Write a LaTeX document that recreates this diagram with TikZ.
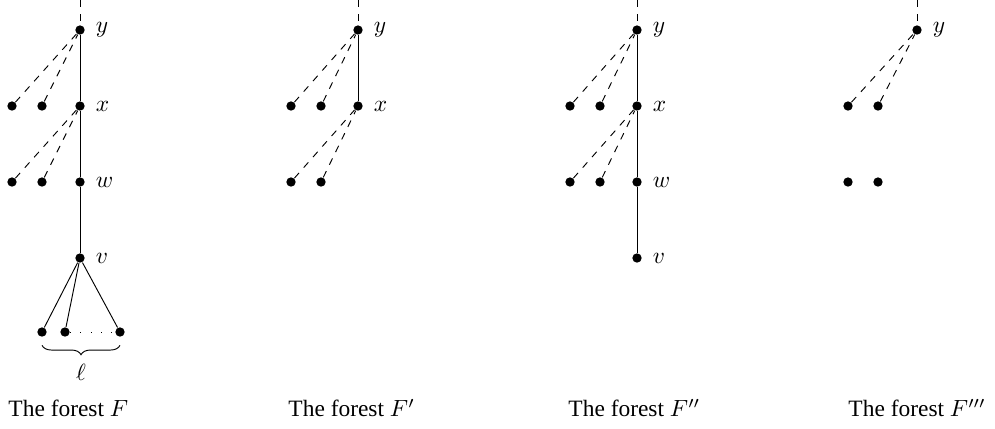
\documentclass[tikz,border=0pt]{standalone}
\usepackage{fontspec}
\setmainfont{Liberation Serif}
\usetikzlibrary{positioning, decorations.pathreplacing}

\begin{document}
\begin{tikzpicture}[
  x=0.015cm, y=-0.015cm,
  dot/.style={circle, fill=black, inner sep=0pt, minimum size=0.14cm},
  edge/.style={thin, black},
  cut/.style={thin, dashed, black},
  caption/.style={anchor=west, inner sep=0pt},
  label distance=1pt,
]
\useasboundingbox (0,0) rectangle (995,428);

% The forest F
\coordinate (Ftop) at (80,0);
\node[dot, label=right:$y$] (Fy) at (80,30) {};
\node[dot, label=right:$x$] (Fx) at (80,106) {};
\node[dot, label=right:$w$] (Fw) at (80,182) {};
\node[dot, label=right:$v$] (Fv) at (80,258) {};
\node[dot] (Fa1) at (12,106) {};
\node[dot] (Fa2) at (42,106) {};
\node[dot] (Fb1) at (12,182) {};
\node[dot] (Fb2) at (42,182) {};
\node[dot] (Fl1) at (42,332) {};
\node[dot] (Fl2) at (65,332) {};
\node[dot] (Fl3) at (120,332) {};
\draw[cut] (Ftop) -- (Fy);
\draw[edge] (Fy) -- (Fx) -- (Fw) -- (Fv);
\foreach \i in {1,2} {
  \draw[cut] (Fa\i) -- (Fy);
  \draw[cut] (Fb\i) -- (Fx);
}
\foreach \i in {1,2,3}
  \draw[edge] (Fv) -- (Fl\i);
\draw[loosely dotted] (Fl2) -- (Fl3);
\draw[decorate, decoration={brace, mirror, amplitude=4pt}]
  ([yshift=-0.2cm]Fl1.center) -- ([yshift=-0.2cm]Fl3.center);
\node (ell) at (81,372) {$\ell$};
\node[caption] (capF) at (8,408) {The forest $F$};

% The forest F'
\coordinate (Gtop) at (358,0);
\node[dot, label=right:$y$] (Gy) at (358,30) {};
\node[dot, label=right:$x$] (Gx) at (358,106) {};
\node[dot] (Ga1) at (291,106) {};
\node[dot] (Ga2) at (321,106) {};
\node[dot] (Gb1) at (291,182) {};
\node[dot] (Gb2) at (321,182) {};
\draw[cut] (Gtop) -- (Gy);
\draw[edge] (Gy) -- (Gx);
\foreach \i in {1,2} {
  \draw[cut] (Ga\i) -- (Gy);
  \draw[cut] (Gb\i) -- (Gx);
}
\node[caption] (capG) at (288,408) {The forest $F'$};

% The forest F''
\coordinate (Htop) at (637,0);
\node[dot, label=right:$y$] (Hy) at (637,30) {};
\node[dot, label=right:$x$] (Hx) at (637,106) {};
\node[dot, label=right:$w$] (Hw) at (637,182) {};
\node[dot, label=right:$v$] (Hv) at (637,258) {};
\node[dot] (Ha1) at (570,106) {};
\node[dot] (Ha2) at (600,106) {};
\node[dot] (Hb1) at (570,182) {};
\node[dot] (Hb2) at (600,182) {};
\draw[cut] (Htop) -- (Hy);
\draw[edge] (Hy) -- (Hx) -- (Hw) -- (Hv);
\foreach \i in {1,2} {
  \draw[cut] (Ha\i) -- (Hy);
  \draw[cut] (Hb\i) -- (Hx);
}
\node[caption] (capH) at (568,408) {The forest $F''$};

% The forest F'''
\coordinate (Ktop) at (917,0);
\node[dot, label=right:$y$] (Ky) at (917,30) {};
\node[dot] (Ka1) at (848,106) {};
\node[dot] (Ka2) at (878,106) {};
\node[dot] (Kb1) at (848,182) {};
\node[dot] (Kb2) at (878,182) {};
\draw[cut] (Ktop) -- (Ky);
\foreach \i in {1,2}
  \draw[cut] (Ka\i) -- (Ky);
\node[caption] (capK) at (848,408) {The forest $F'''$};

\end{tikzpicture}
\end{document}
